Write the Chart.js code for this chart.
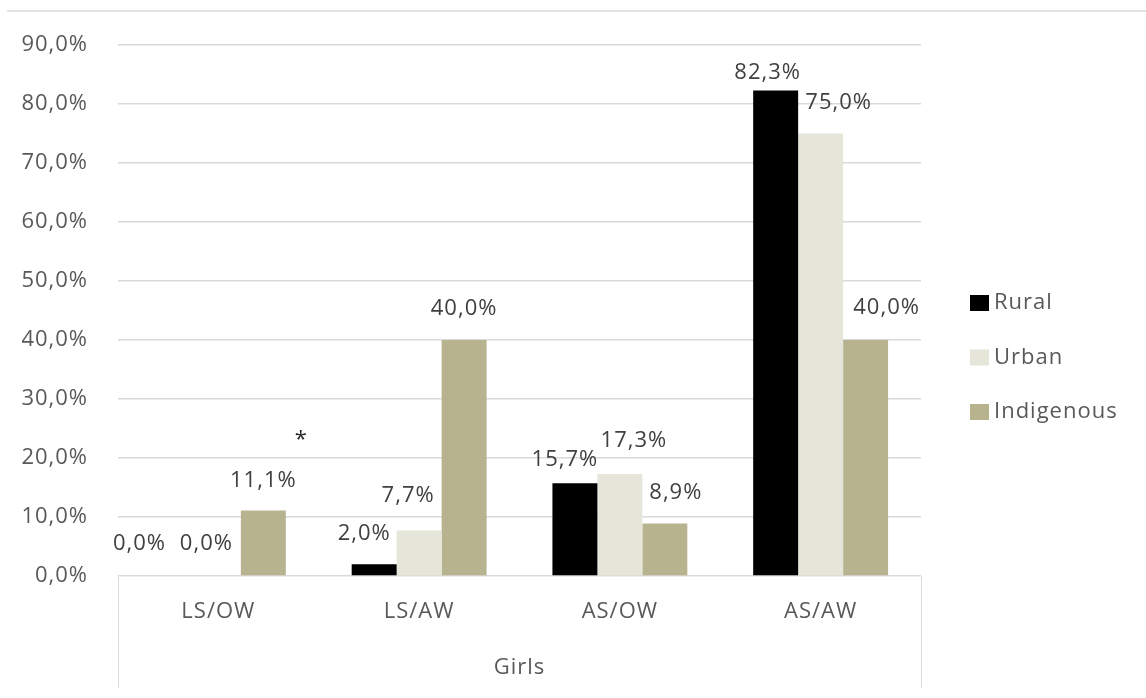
<!DOCTYPE html>
<html>
<head>
<meta charset="utf-8">
<script src="https://cdn.jsdelivr.net/npm/chart.js@4.4.1/dist/chart.umd.min.js"></script>
<style>
  html, body { margin: 0; padding: 0; background: #fff; }
  canvas { display: block; }
</style>
</head>
<body>
<canvas id="chart" width="1146" height="698"></canvas>
<script>
// values (percent)
const categories = ['LS/OW', 'LS/AW', 'AS/OW', 'AS/AW'];
const groupLabel = 'Girls';
const seriesNames = ['Rural', 'Urban', 'Indigenous'];
const rural = [0.0, 2.0, 15.7, 82.3];
const urban = [0.0, 7.7, 17.3, 75.0];
const indigenous = [11.1, 40.0, 8.9, 40.0];
const yTicks = [0, 10, 20, 30, 40, 50, 60, 70, 80, 90];

const colors = ['#000000', '#e6e5da', '#b8b38f'];
const textGrey = '#595959';
const labelGrey = '#404040';
const lineGrey = '#d9d9d9';
const fontFamily = "'Open Sans', sans-serif";
const fontSize = 22;
const spacing = '1px';

// nudges for value labels, relative to the top centre of each bar (like the Excel layout)
const labelShift = [
  [[-34, -32], [-10, -30], [-10, -24], [-8, -18]],
  [[-12, -32], [-11, -35], [14, -33], [18, -31]],
  [[0, -30], [0, -31], [11, -31], [21, -32]]
];

const fmt = v => v.toFixed(1).replace('.', ',') + '%';

Chart.defaults.font.family = fontFamily;
Chart.defaults.font.size = fontSize;
Chart.defaults.color = textGrey;

const spacingPlugin = {
  id: 'spacing',
  beforeUpdate(chart) { chart.ctx.letterSpacing = spacing; },
  beforeDraw(chart) { chart.ctx.letterSpacing = spacing; }
};

const extras = {
  id: 'extras',
  afterDraw(chart) {
    const ctx = chart.ctx;
    const area = chart.chartArea;
    const ys = chart.scales.y;
    ctx.save();
    ctx.letterSpacing = spacing;

    // frame line at the top of the chart object
    ctx.strokeStyle = lineGrey;
    ctx.lineWidth = 1.5;
    ctx.beginPath();
    ctx.moveTo(7, 11);
    ctx.lineTo(chart.width, 11);
    ctx.stroke();

    // group bracket lines under the axis
    ctx.lineWidth = 1;
    ctx.beginPath();
    ctx.moveTo(area.left + 0.5, area.bottom);
    ctx.lineTo(area.left + 0.5, chart.height - 10);
    ctx.moveTo(area.right + 0.5, area.bottom);
    ctx.lineTo(area.right + 0.5, chart.height - 10);
    ctx.stroke();

    // value labels
    ctx.font = fontSize + 'px ' + fontFamily;
    ctx.fillStyle = labelGrey;
    ctx.textAlign = 'center';
    ctx.textBaseline = 'middle';
    chart.data.datasets.forEach((ds, di) => {
      chart.getDatasetMeta(di).data.forEach((bar, i) => {
        const s = labelShift[di][i];
        ctx.fillText(fmt(ds.data[i]), bar.x + s[0], bar.y + s[1]);
      });
    });

    // asterisk next to the first group
    const lastBar = chart.getDatasetMeta(2).data[0];
    ctx.fillStyle = '#262626';
    ctx.textBaseline = 'alphabetic';
    ctx.fillText('*', lastBar.x + 38, ys.getPixelForValue(24) + 12);

    // legend
    ctx.textAlign = 'left';
    ctx.textBaseline = 'middle';
    const legendTop = (area.top + area.bottom) / 2 - 7.5;
    seriesNames.forEach((name, i) => {
      const cy = legendTop + i * 54.5;
      ctx.fillStyle = colors[i];
      ctx.fillRect(970, cy - 8, 19, 16);
      ctx.fillStyle = textGrey;
      ctx.fillText(name, 994, cy);
    });
    ctx.restore();
  }
};

new Chart(document.getElementById('chart'), {
  type: 'bar',
  data: {
    labels: categories,
    datasets: [
      { label: seriesNames[0], data: rural, backgroundColor: colors[0] },
      { label: seriesNames[1], data: urban, backgroundColor: colors[1] },
      { label: seriesNames[2], data: indigenous, backgroundColor: colors[2] }
    ]
  },
  options: {
    responsive: false,
    animation: false,
    devicePixelRatio: 1,
    categoryPercentage: 0.672,
    barPercentage: 1,
    layout: { padding: { top: 45, right: 225, bottom: 0, left: 0 } },
    plugins: {
      legend: { display: false },
      tooltip: { enabled: false }
    },
    scales: {
      x: {
        grid: { display: false, drawTicks: false },
        border: { display: false },
        ticks: { padding: 23, color: textGrey },
        title: { display: true, text: groupLabel, color: textGrey, padding: { top: 0, bottom: 17 } },
        afterFit(scale) { scale.height = 122; }
      },
      y: {
        min: 0,
        max: 90,
        afterBuildTicks(scale) { scale.ticks = yTicks.map(v => ({ value: v })); },
        grid: { color: lineGrey, lineWidth: 1.5, drawTicks: false },
        border: { display: false },
        ticks: { padding: 30, color: textGrey, callback: v => fmt(v) },
        afterFit(scale) { scale.width = 118; }
      }
    }
  },
  plugins: [spacingPlugin, extras]
});
</script>
</body>
</html>
